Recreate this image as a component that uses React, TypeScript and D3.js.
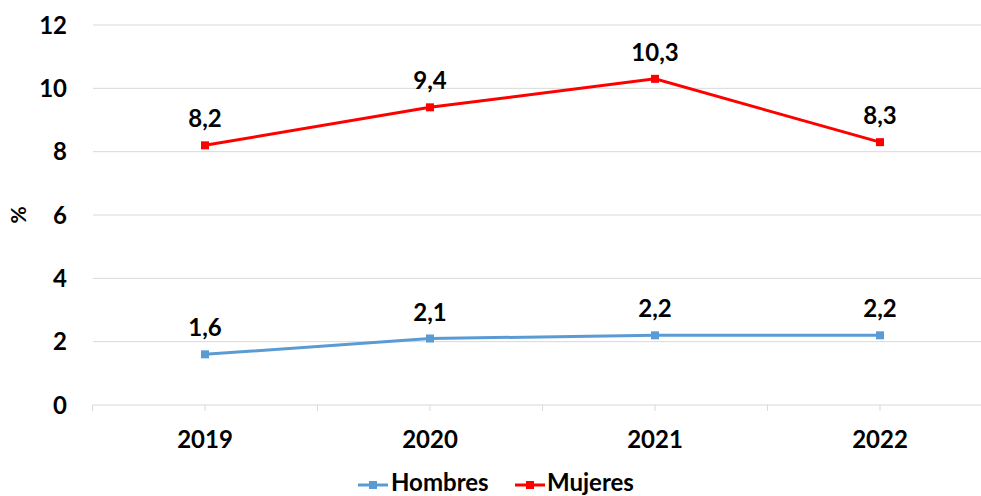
import React from "react";
import * as d3 from "d3";

const years = ["2019", "2020", "2021", "2022"];
const hombres = [1.6, 2.1, 2.2, 2.2];
const mujeres = [8.2, 9.4, 10.3, 8.3];
const yTicks = [0, 2, 4, 6, 8, 10, 12];
const labelsH = ["1,6", "2,1", "2,2", "2,2"];
const labelsM = ["8,2", "9,4", "10,3", "8,3"];

const W = 981;
const H = 496;
const FONT = "Lato, 'Open Sans', sans-serif";
const FS = 24;

export default function App() {
  const x = d3.scaleBand<string>().domain(years).range([92.5, 992.5]);
  const y = d3.scaleLinear().domain([0, 12]).range([405, 25]);
  const cx = (d: string) => (x(d) as number) + x.bandwidth() / 2;
  const line = d3
    .line<number>()
    .x((_, i) => cx(years[i]))
    .y((v) => y(v));

  const series = [
    { name: "Hombres", values: hombres, labels: labelsH, color: "#5B9BD5" },
    { name: "Mujeres", values: mujeres, labels: labelsM, color: "#FF0000" },
  ];

  const tickXs: number[] = [];
  years.forEach((d) => {
    tickXs.push(x(d) as number);
    tickXs.push(cx(d));
  });
  tickXs.push(992.5);

  const legend = [
    { s: series[0], lx: 358, tx: 391 },
    { s: series[1], lx: 515, tx: 547 },
  ];

  return (
    <svg
      width={W}
      height={H}
      style={{ position: "absolute", left: 0, top: 0, background: "#fff" }}
      fontFamily={FONT}
    >
      <rect x={0} y={0} width={W} height={H} fill="#fff" />
      {yTicks.slice(1).map((t) => (
        <line key={t} x1={93} x2={W} y1={y(t)} y2={y(t)} stroke="#d9d9d9" strokeWidth={1} />
      ))}
      <line x1={93} x2={W} y1={y(0)} y2={y(0)} stroke="#d9d9d9" strokeWidth={1} />
      {tickXs.map((t, i) => (
        <line key={i} x1={t} x2={t} y1={y(0)} y2={y(0) + 6} stroke="#d9d9d9" strokeWidth={1} />
      ))}
      {yTicks.map((t) => (
        <text
          key={t}
          x={67}
          y={y(t)}
          dy="0.36em"
          textAnchor="end"
          fontSize={FS}
          fontWeight={700}
          fill="#000"
        >
          {t}
        </text>
      ))}
      <text
        transform="translate(26,215) rotate(-90)"
        textAnchor="middle"
        fontSize={21}
        fontWeight={700}
        fill="#000"
      >
        %
      </text>
      {years.map((d) => (
        <text key={d} x={cx(d)} y={448} textAnchor="middle" fontSize={FS} fontWeight={700} fill="#000">
          {d}
        </text>
      ))}
      {series.map((s) => (
        <g key={s.name}>
          <path d={line(s.values) || ""} fill="none" stroke={s.color} strokeWidth={3} />
          {s.values.map((v, i) => (
            <rect
              key={i}
              x={cx(years[i]) - 4}
              y={y(v) - 4}
              width={8}
              height={8}
              fill={s.color}
            />
          ))}
          {s.values.map((v, i) => (
            <text
              key={"l" + i}
              x={cx(years[i])}
              y={y(v) - 18}
              textAnchor="middle"
              fontSize={FS}
              fontWeight={700}
              fill="#000"
            >
              {s.labels[i]}
            </text>
          ))}
        </g>
      ))}
      {legend.map(({ s, lx, tx }) => (
        <g key={s.name}>
          <line x1={lx} x2={lx + 30} y1={485} y2={485} stroke={s.color} strokeWidth={3} />
          <rect x={lx + 11} y={481} width={8} height={8} fill={s.color} />
          <text x={tx} y={491} fontSize={FS} fontWeight={700} fill="#000">
            {s.name}
          </text>
        </g>
      ))}
    </svg>
  );
}
